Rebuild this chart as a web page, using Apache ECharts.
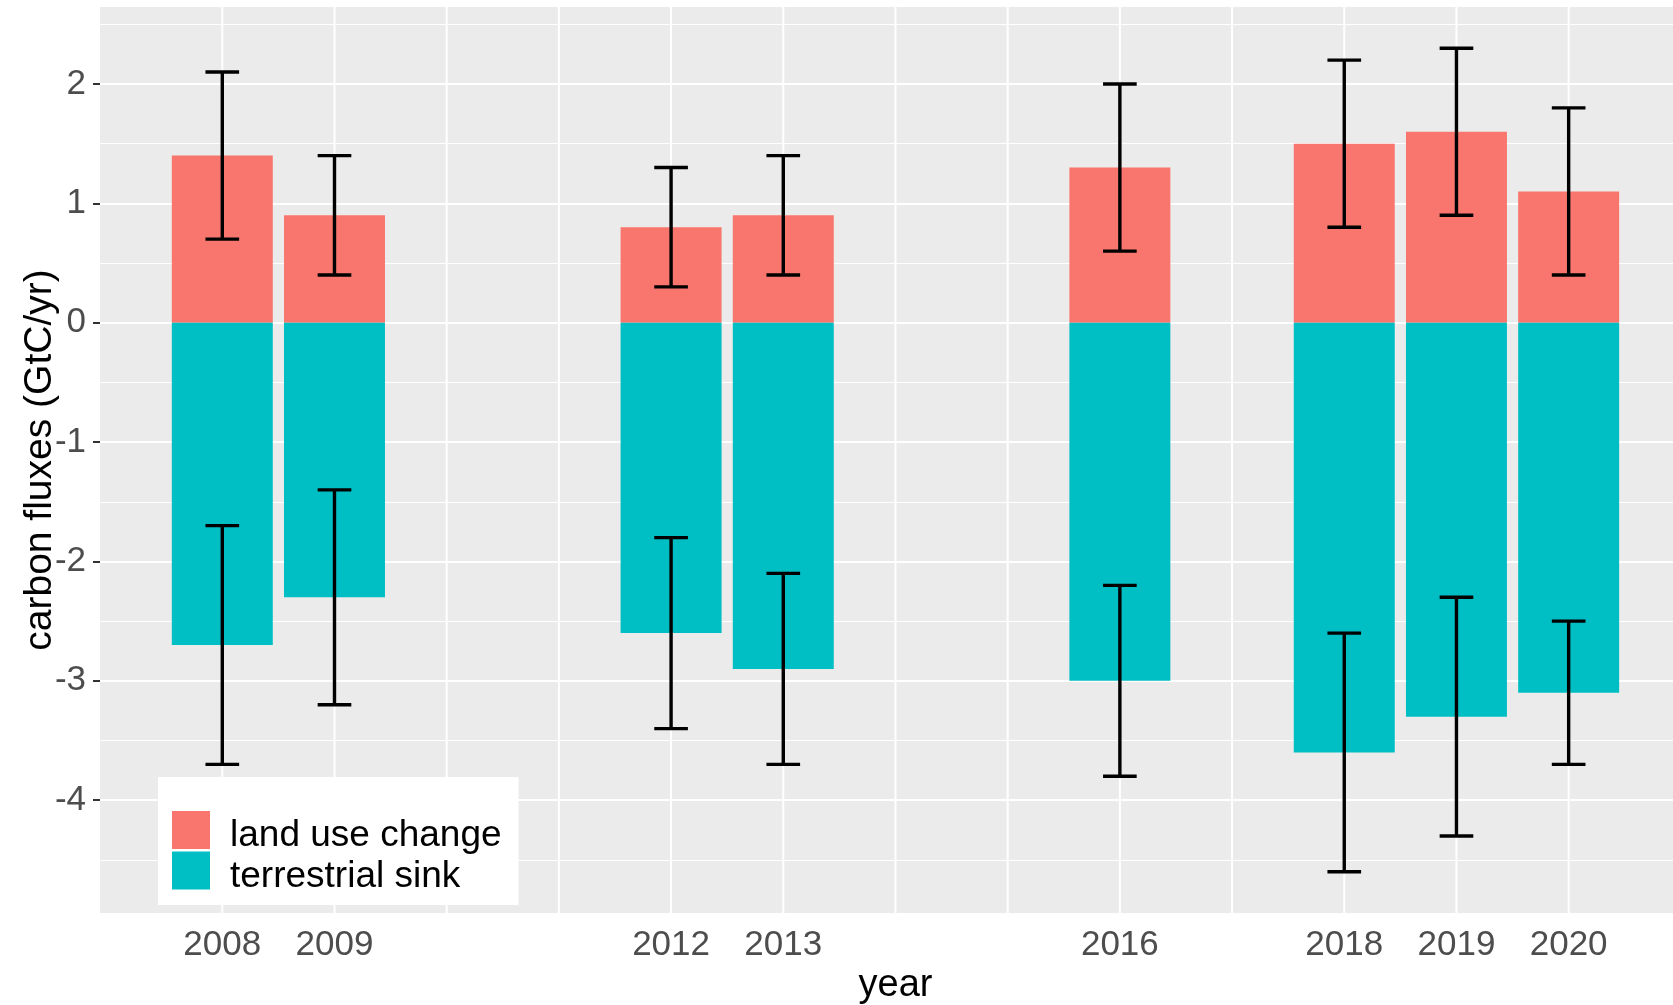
<!DOCTYPE html>
<html>
<head>
<meta charset="utf-8">
<script src="https://cdn.jsdelivr.net/npm/echarts@6/dist/echarts.min.js"></script>
<style>
  html, body { margin: 0; padding: 0; background: #fff; }
  #chart { width: 1673px; height: 1005px; }
</style>
</head>
<body>
<div id="chart"></div>
<script>
// values (GtC/yr)
const years = [2008, 2009, 2012, 2013, 2016, 2018, 2019, 2020];
const landUse = [1.4, 0.9, 0.8, 0.9, 1.3, 1.5, 1.6, 1.1];
const landUseLow = [0.7, 0.4, 0.3, 0.4, 0.6, 0.8, 0.9, 0.4];
const landUseHigh = [2.1, 1.4, 1.3, 1.4, 2.0, 2.2, 2.3, 1.8];
const sink = [-2.7, -2.3, -2.6, -2.9, -3.0, -3.6, -3.3, -3.1];
const sinkLow = [-3.7, -3.2, -3.4, -3.7, -3.8, -4.6, -4.3, -3.7];
const sinkHigh = [-1.7, -1.4, -1.8, -2.1, -2.2, -2.6, -2.3, -2.5];
const yTicks = [-4, -3, -2, -1, 0, 1, 2];
const gridYears = [2008, 2009, 2010, 2011, 2012, 2013, 2014, 2015, 2016, 2017, 2018, 2019, 2020];

const FONT = '"Liberation Sans", Arial, sans-serif';
const BAR_W = 0.9;
const CAP_W = 0.3;

const chart = echarts.init(document.getElementById('chart'));

function barItem(params, api) {
  const x = api.value(0);
  const v = api.value(1);
  const a = api.coord([x - BAR_W / 2, v]);
  const b = api.coord([x + BAR_W / 2, 0]);
  return {
    type: 'rect',
    shape: { x: a[0], y: Math.min(a[1], b[1]), width: b[0] - a[0], height: Math.abs(b[1] - a[1]) },
    style: { fill: api.visual('color') },
  };
}

function errItem(params, api) {
  const x = api.value(0);
  const top = api.coord([x, api.value(2)]);
  const bot = api.coord([x, api.value(1)]);
  const half = api.size([CAP_W, 0])[0] / 2;
  const st = { stroke: '#000', lineWidth: 3.4 };
  return {
    type: 'group',
    children: [
      { type: 'line', shape: { x1: top[0], y1: top[1], x2: bot[0], y2: bot[1] }, style: st },
      { type: 'line', shape: { x1: top[0] - half, y1: top[1], x2: top[0] + half, y2: top[1] }, style: st },
      { type: 'line', shape: { x1: bot[0] - half, y1: bot[1], x2: bot[0] + half, y2: bot[1] }, style: st },
    ],
  };
}

// vertical panel grid at every year
function vGridItem(params, api) {
  const p = api.coord([api.value(0), 0]);
  const cs = params.coordSys;
  return {
    type: 'line',
    shape: { x1: p[0], y1: cs.y, x2: p[0], y2: cs.y + cs.height },
    style: { stroke: '#fff', lineWidth: 2 },
  };
}

chart.setOption({
  animation: false,
  grid: {
    left: 100, right: 0, top: 7, bottom: 92,
    outerBoundsMode: 'none',
    show: true, backgroundColor: '#EBEBEB', borderWidth: 0,
  },
  legend: {
    orient: 'vertical',
    left: 158, top: 777,
    data: ['land use change', 'terrestrial sink'],
    backgroundColor: '#fff',
    padding: [34, 17, 10, 14],
    itemWidth: 38, itemHeight: 38, itemGap: -3,
    icon: 'rect',
    formatter: (name) => '{t|' + name + '}',
    textStyle: {
      color: '#000', fontSize: 37, fontFamily: FONT,
      rich: { t: { color: '#000', fontSize: 37, fontFamily: FONT, padding: [12, 0, 0, 15] } },
    },
  },
  xAxis: {
    type: 'value',
    min: 2006.91, max: 2020.93,
    name: 'year',
    nameLocation: 'middle',
    nameGap: 54,
    nameMoveOverlap: false,
    nameTextStyle: { color: '#000', fontSize: 38, fontFamily: FONT, padding: [0, 0, 0, 18] },
    axisLine: { show: false },
    axisTick: { show: true, length: 7, lineStyle: { color: '#333', width: 2 }, customValues: years },
    axisLabel: { color: '#4D4D4D', fontSize: 35, fontFamily: FONT, margin: 15, customValues: years,
      formatter: (v) => String(v) },
    splitLine: { show: false },
  },
  yAxis: {
    type: 'value',
    min: -4.945, max: 2.645,
    splitNumber: 8,
    name: 'carbon fluxes (GtC/yr)',
    nameLocation: 'middle',
    nameGap: 40,
    nameMoveOverlap: false,
    nameTextStyle: { color: '#000', fontSize: 39, fontFamily: FONT },
    axisLine: { show: false },
    axisTick: { show: true, length: 7, lineStyle: { color: '#333', width: 2 }, customValues: yTicks },
    axisLabel: { color: '#4D4D4D', fontSize: 35, fontFamily: FONT, margin: 14, customValues: yTicks },
    splitLine: { show: true, lineStyle: { color: '#fff', width: 2.2 } },
    minorTick: { show: false, splitNumber: 2 },
    minorSplitLine: { show: true, lineStyle: { color: '#fff', width: 1.2 } },
  },
  series: [
    {
      name: 'grid',
      type: 'custom',
      silent: true,
      z: 1,
      renderItem: vGridItem,
      data: gridYears.map((y) => [y]),
      encode: { x: 0 },
    },
    {
      name: 'land use change',
      type: 'custom',
      z: 2,
      itemStyle: { color: '#F8766D' },
      renderItem: barItem,
      data: years.map((y, i) => [y, landUse[i]]),
      encode: { x: 0, y: 1 },
    },
    {
      name: 'terrestrial sink',
      type: 'custom',
      z: 2,
      itemStyle: { color: '#00BFC4' },
      renderItem: barItem,
      data: years.map((y, i) => [y, sink[i]]),
      encode: { x: 0, y: 1 },
    },
    {
      name: 'land use change err',
      type: 'custom',
      z: 3,
      renderItem: errItem,
      data: years.map((y, i) => [y, landUseLow[i], landUseHigh[i]]),
      encode: { x: 0, y: [1, 2] },
    },
    {
      name: 'terrestrial sink err',
      type: 'custom',
      z: 3,
      renderItem: errItem,
      data: years.map((y, i) => [y, sinkLow[i], sinkHigh[i]]),
      encode: { x: 0, y: [1, 2] },
    },
  ],
});
</script>
</body>
</html>
